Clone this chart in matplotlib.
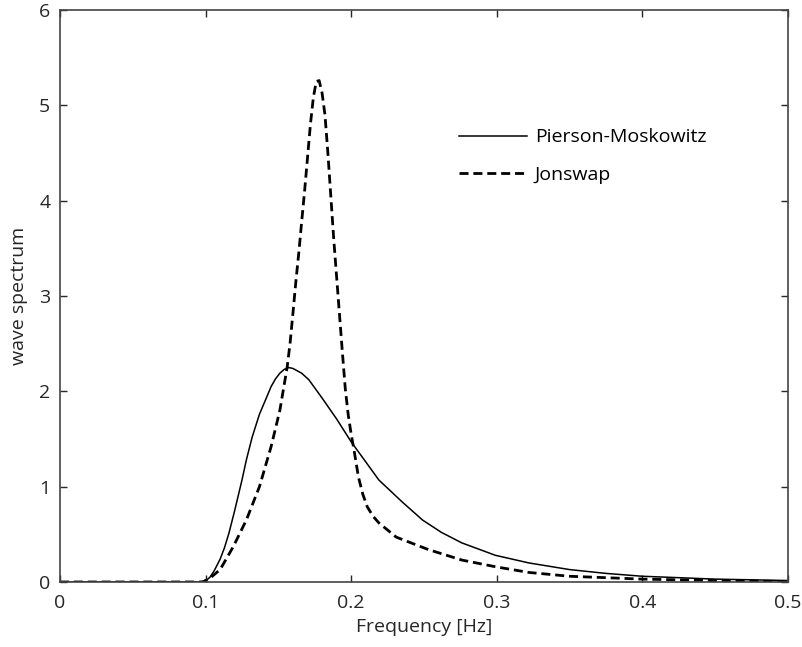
import matplotlib
matplotlib.use('Agg')
import matplotlib.pyplot as plt

plt.rcParams['font.family'] = ['Open Sans', 'DejaVu Sans']
plt.rcParams['lines.scale_dashes'] = False

# Pierson-Moskowitz spectrum
pm_f = [0, 0.05, 0.095, 0.100, 0.103, 0.106, 0.110, 0.113, 0.116, 0.120, 0.125,
        0.128, 0.132, 0.137, 0.142, 0.145, 0.148, 0.151, 0.154, 0.157, 0.160,
        0.166, 0.171, 0.180, 0.190, 0.200, 0.210, 0.219, 0.235, 0.249, 0.262,
        0.276, 0.299, 0.322, 0.350, 0.375, 0.400, 0.450, 0.500]
pm_s = [0, 0, 0, 0.01, 0.05, 0.12, 0.24, 0.36, 0.51, 0.75, 1.07,
        1.28, 1.52, 1.76, 1.94, 2.05, 2.13, 2.19, 2.23, 2.25, 2.24,
        2.19, 2.12, 1.93, 1.71, 1.47, 1.26, 1.07, 0.84, 0.65, 0.52,
        0.41, 0.28, 0.20, 0.13, 0.09, 0.06, 0.03, 0.015]

# Jonswap spectrum
js_f = [0, 0.05, 0.098, 0.103, 0.110, 0.119, 0.128, 0.137, 0.145, 0.151,
        0.156, 0.158, 0.160, 0.162, 0.164, 0.166, 0.168, 0.170, 0.172, 0.174,
        0.176, 0.178, 0.180, 0.182, 0.184, 0.186, 0.188, 0.190, 0.192, 0.194,
        0.196, 0.198, 0.200, 0.202, 0.205, 0.208, 0.211, 0.215, 0.219, 0.231,
        0.253, 0.276, 0.299, 0.322, 0.350, 0.400, 0.450, 0.500]
js_s = [0, 0, 0, 0.04, 0.13, 0.37, 0.65, 1.00, 1.42, 1.80,
        2.25, 2.50, 2.82, 3.15, 3.45, 3.78, 4.10, 4.45, 4.80, 5.08,
        5.25, 5.26, 5.13, 4.90, 4.50, 4.05, 3.60, 3.20, 2.80, 2.40,
        2.02, 1.75, 1.55, 1.38, 1.10, 0.92, 0.79, 0.69, 0.62, 0.47,
        0.34, 0.23, 0.16, 0.10, 0.06, 0.03, 0.015, 0.005]

fig = plt.figure(figsize=(8.02, 6.47), dpi=100)
ax = fig.add_axes([0.0748, 0.1005, 0.9077, 0.884])

ax.plot(pm_f, pm_s, color='black', linewidth=1.1, label='Pierson-Moskowitz')
ax.plot(js_f, js_s, color='black', linewidth=2.0, dashes=(6.5, 3.5), label='Jonswap')

ax.set_xlim(0, 0.5)
ax.set_ylim(0, 6)
ax.set_xticks([0, 0.1, 0.2, 0.3, 0.4, 0.5])
ax.set_xticklabels(['0', '0.1', '0.2', '0.3', '0.4', '0.5'])
ax.set_yticks([0, 1, 2, 3, 4, 5, 6])
ax.tick_params(direction='in', top=True, right=True, length=5, width=1,
               labelsize=14, colors='#262626')
ax.tick_params(axis='x', pad=9)
ax.tick_params(axis='y', pad=7)
for s in ax.spines.values():
    s.set_linewidth(1.2)
    s.set_color('#444444')

ax.set_xlabel('Frequency [Hz]', fontsize=14, color='#262626', labelpad=4)
ax.set_ylabel('wave spectrum', fontsize=14, color='#262626', labelpad=8)

ax.legend(loc='upper left', bbox_to_anchor=(0.548, 0.793), frameon=False,
          fontsize=14, handlelength=3.5, handletextpad=0.4, labelspacing=1.0,
          borderpad=0, borderaxespad=0)

fig.savefig('out.png', dpi=100)
